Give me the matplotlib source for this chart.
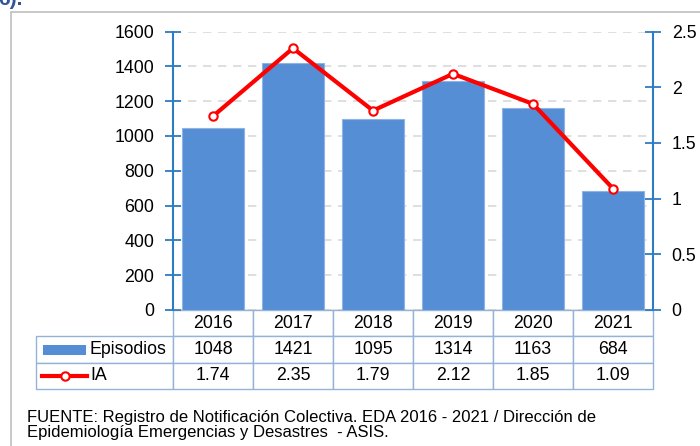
import matplotlib.pyplot as plt
from matplotlib.table import Table
from matplotlib.lines import Line2D
from matplotlib.patches import Rectangle

years = ['2016', '2017', '2018', '2019', '2020', '2021']
episodios = [1048, 1421, 1095, 1314, 1163, 684]
ia = [1.74, 2.35, 1.79, 2.12, 1.85, 1.09]
ia_labels = ['1.74', '2.35', '1.79', '2.12', '1.85', '1.09']

plt.rcParams['font.family'] = ['Liberation Sans', 'DejaVu Sans']

W, H = 700, 446
fig = plt.figure(figsize=(7, 4.46), dpi=100)

# axes placed in pixel coordinates of the reference
left, right, top, bottom = 173, 653, 31.5, 310
ax = fig.add_axes([left / W, 1 - bottom / H, (right - left) / W, (bottom - top) / H])

axis_blue = '#2E7CC4'
bar_blue = '#558ED5'
fs = 12.8

x = list(range(len(years)))
ax.bar(x, episodios, width=0.78, color=bar_blue, edgecolor='#8DB4E2', linewidth=0.8, zorder=2)
ax.set_xlim(-0.5, len(years) - 0.5)
ax.set_ylim(0, 1600)
ax.set_yticks(range(0, 1601, 200))
ax.yaxis.grid(True, color='#D9D9D9', linestyle=(0, (5, 4)), linewidth=1.2, zorder=0)
ax.set_axisbelow(True)
ax.set_xticks([])

ax2 = ax.twinx()
ax2.plot(x, ia, color='#FF0000', linewidth=3, marker='o', markersize=6,
         markerfacecolor='white', markeredgecolor='#FF0000', markeredgewidth=1.5,
         zorder=3, clip_on=False)
ax2.set_ylim(0, 2.5)
ax2.set_yticks([0, 0.5, 1, 1.5, 2, 2.5])
ax2.set_yticklabels(['0', '0.5', '1', '1.5', '2', '2.5'])

for a in (ax, ax2):
    for s in ('top', 'bottom'):
        a.spines[s].set_visible(False)
    a.tick_params(axis='y', direction='inout', length=11, width=1.3,
                  color=axis_blue, labelsize=fs, pad=8)
ax.spines['left'].set_color(axis_blue)
ax.spines['left'].set_linewidth(1.5)
ax.spines['right'].set_visible(False)
ax2.spines['right'].set_color(axis_blue)
ax2.spines['right'].set_linewidth(1.5)
ax2.spines['left'].set_visible(False)
ax.axhline(0, color='#A6A6A6', linewidth=1, zorder=1)

# data table under the plot
tab_left, tab_bottom = 36, 389
row_h = (tab_bottom - bottom) / 3
label_w = left - tab_left
col_w = (right - left) / len(years)
tbl = Table(ax, bbox=[(tab_left - left) / (right - left), -(tab_bottom - bottom) / (bottom - top),
                      (right - tab_left) / (right - left), (tab_bottom - bottom) / (bottom - top)])
edge = '#95B3D7'
for j, yr in enumerate(years):
    c = tbl.add_cell(0, j + 1, col_w, row_h, text=yr, loc='center', edgecolor=edge)
    c.get_text().set_fontsize(fs)
c = tbl.add_cell(0, 0, label_w, row_h, text='', edgecolor='none')
rows = [('Episodios', [str(v) for v in episodios]), ('IA', ia_labels)]
for i, (name, vals) in enumerate(rows):
    c = tbl.add_cell(i + 1, 0, label_w, row_h, text='', edgecolor=edge)
    for j, v in enumerate(vals):
        c = tbl.add_cell(i + 1, j + 1, col_w, row_h, text=v, loc='center', edgecolor=edge)
        c.get_text().set_fontsize(fs)
tbl.auto_set_font_size(False)
ax.add_table(tbl)

# legend keys inside the table's label column
ep_y = 1 - (bottom + row_h * 1.5) / H
ia_y = 1 - (bottom + row_h * 2.5) / H
fig.patches.append(Rectangle((43 / W, ep_y - 5 / H), 43 / W, 10 / H,
                             transform=fig.transFigure, facecolor=bar_blue, edgecolor='none'))
fig.text(90 / W, ep_y, 'Episodios', fontsize=fs, va='center', ha='left')
fig.lines.append(Line2D([42 / W, 87 / W], [ia_y, ia_y], transform=fig.transFigure,
                        color='#FF0000', linewidth=3))
fig.lines.append(Line2D([65 / W], [ia_y], transform=fig.transFigure, marker='o',
                        markersize=6, markerfacecolor='white', markeredgecolor='#FF0000',
                        markeredgewidth=1.5))
fig.text(90 / W, ia_y, 'IA', fontsize=fs, va='center', ha='left')

# outer frame and captions
fig.patches.append(Rectangle((10.5 / W, -0.1), 1.0, 1 - 12 / H + 0.1, transform=fig.transFigure,
                             facecolor='none', edgecolor='#BFBFBF', linewidth=1.2))
fig.text(-2 / W, 1 - 5 / H, '6).', fontsize=15, fontweight='bold', color='#2F5597',
         va='baseline', ha='left')
fig.text(27 / W, 1 - 422 / H,
         'FUENTE: Registro de Notificación Colectiva. EDA 2016 - 2021 / Dirección de',
         fontsize=12, va='baseline', ha='left')
fig.text(27 / W, 1 - 437 / H,
         'Epidemiología Emergencias y Desastres  - ASIS.',
         fontsize=12, va='baseline', ha='left')

fig.savefig('out.png', dpi=100)
